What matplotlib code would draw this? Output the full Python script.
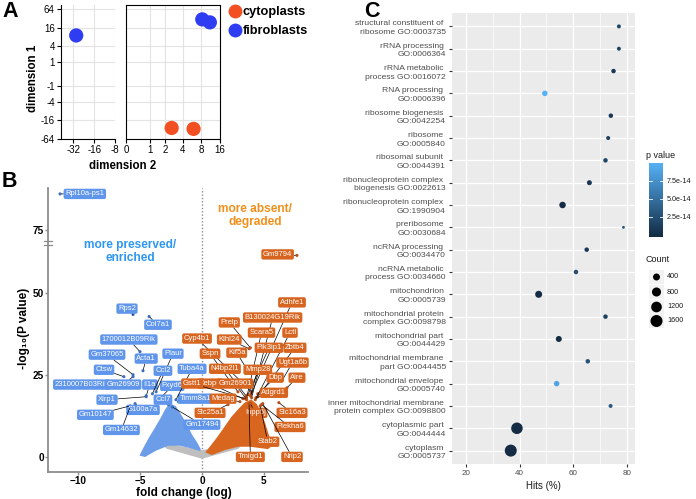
import numpy as np
import matplotlib
matplotlib.use('Agg')
import matplotlib.pyplot as plt
from matplotlib.colors import LinearSegmentedColormap, Normalize
from matplotlib.transforms import blended_transform_factory, offset_copy
from matplotlib.ticker import NullLocator
from matplotlib.patches import Rectangle

plt.rcParams['font.family'] = ['Liberation Sans', 'DejaVu Sans']

# ---------------- data: A (MDS) ----------------
cyto_x = [2.6, 6.0]
cyto_y = [-28, -30]
fibro_x = [-29, 8.3, 11]
fibro_y = [9, 30, 24]
mds_yticks = [64, 16, 4, 1, -1, -4, -16, -64]
mds_xticks_left = [-32, -16, -8]
mds_xticks_right = [0, 1, 2, 4, 8, 16]

# ---------------- data: B (volcano) ----------------
# envelopes of the dense point clouds (fold change, -log10 p)
grey_cloud_x = [-3.15, 0.0, 3.23, 2.9, 0.0, -2.82]
grey_cloud_y = [4.0, 1.8, 4.0, 2.7, -0.3, 2.7]
blue_cloud_x = [-4.92, -4.6, -4.19, -3.71, -3.23, -2.9, -2.58, -2.18, -1.77, -1.29, -0.89,
                -0.48, -0.16, -0.97, -1.77, -2.74, -3.79, -4.6]
blue_cloud_y = [0.6, 3.0, 5.8, 8.8, 11.9, 14.3, 15.9, 15.2, 12.8, 9.8, 6.7,
                4.3, 2.1, 3.0, 3.7, 3.7, 2.1, 0.3]
orange_cloud_x = [0.4, 0.8, 1.29, 1.85, 2.42, 2.98, 3.47, 3.95, 4.35, 4.68, 5.0,
                  5.3, 5.65, 5.3, 3.87, 2.9, 1.85, 0.8]
orange_cloud_y = [1.5, 3.4, 5.8, 8.8, 11.9, 14.3, 16.2, 17.1, 15.9, 13.4, 10.4,
                  6.7, 3.7, 2.7, 3.4, 3.4, 2.4, 0.9]

blue_genes = ['Il1a', 'Fxyd6', 'Timm8a1', 'S100a7a', 'Rpl10a-ps1', 'Rps2', 'Col7a1',
              '1700012B09Rik', 'Gm37065', 'Acta1', 'Plaur', 'Ctsw', 'Ccl2', 'Tuba4a',
              '2310007B03Rik', 'Gm26909', 'Xirp1', 'Ccl7', 'Gm10147', 'Gm14632', 'Gm17494']
blue_fc = [-4.5, -3.4, -1.9, -5.4, -11.45, -5.56, -4.27, -5.0, -5.56, -4.76,
           -3.7, -6.3, -4.0, -2.1, -7.26, -5.56, -4.5, -2.7, -5.8, -5.8, -2.4]
blue_lp = [18.6, 17.7, 16.8, 16.2, 86.0, 43.3, 42.7, 32.0, 25.0, 26.2,
           19.8, 24.4, 19.2, 17.4, 22.3, 24.4, 18.3, 15.9, 15.5, 15.2, 15.2]

up_genes = ['Cebpd', 'Inpp5j', 'Gm9794', 'Adhfe1', 'B130024G19Rik', 'Prelp', 'Scara5', 'Lctl',
            'Cyp4b1', 'Klhl24', 'Pik3ip1', 'Zbtb4', 'Sspn', 'Kif5a', 'Ugt1a6b', 'Mmp28',
            'N4bp2l1', 'Dbp', 'Aire', 'Gstt1', 'Gm26901', 'Adgrd1', 'Medag', 'Slc25a1',
            'Slc16a3', 'Plekha6', 'Stab2', 'Nrip2', 'Tmigd1']
up_fc = [3.3, 3.9, 7.66, 3.9, 4.0, 3.9, 3.6, 4.3, 4.0, 3.8, 3.7, 4.5, 2.9, 3.5, 6.5,
         3.95, 3.55, 4.5, 6.85, 3.5, 3.6, 4.35, 3.06, 2.1, 6.2, 4.8, 4.7, 4.9, 3.8]
up_lp = [17.7, 16.2, 61.3, 18.6, 18.0, 33.2, 18.0, 17.4, 19.8, 32.9, 18.9, 18.3, 19.8,
         27.4, 23.5, 19.2, 18.6, 19.2, 21.0, 17.7, 17.4, 18.0, 16.8, 15.9, 16.5, 15.9,
         15.5, 16.2, 16.2]

# label placement (layout, data coordinates)
blue_lab_pos = [(-4.2, 22), (-2.4, 21.6), (-0.56, 17.7), (-4.76, 14.3), (-9.45, 86),
                (-6.05, 45.1), (-3.55, 40.2), (-5.9, 35.7), (-7.66, 31.1), (-4.5, 29.9),
                (-2.34, 31.4), (-7.9, 26.5), (-3.15, 26.2), (-0.8, 26.8), (-9.7, 22),
                (-6.37, 22), (-7.66, 17.4), (-3.15, 17.4), (-8.6, 12.8), (-6.5, 8.2), (0, 9.8)]
up_lab_pos = [(0.65, 22.3), (4.3, 13.4), (6.1, 61.6), (7.26, 47), (5.7, 42.4), (2.2, 40.9),
              (4.8, 37.8), (7.1, 37.8), (-0.4, 36), (2.2, 35.7), (5.4, 33.2), (7.5, 33.2),
              (0.65, 31.4), (2.8, 31.7), (7.3, 28.7), (4.5, 26.5), (1.85, 26.8), (5.9, 24.1),
              (7.66, 24.1), (-0.8, 22.3), (2.66, 22.3), (5.8, 19.5), (1.7, 17.7), (0.65, 13.4),
              (7.26, 13.4), (7.1, 9.1), (5.3, 4.6), (7.26, 0), (3.9, 0)]

# ---------------- data: C (GO enrichment) ----------------
go_terms = ['structural constituent of \nribosome GO:0003735', 'rRNA processing \nGO:0006364',
            'rRNA metabolic \nprocess GO:0016072', 'RNA processing \nGO:0006396',
            'ribosome biogenesis \nGO:0042254', 'ribosome \nGO:0005840',
            'ribosomal subunit \nGO:0044391', 'ribonucleoprotein complex \nbiogenesis GO:0022613',
            'ribonucleoprotein complex \nGO:1990904', 'preribosome \nGO:0030684',
            'ncRNA processing \nGO:0034470', 'ncRNA metabolic \nprocess GO:0034660',
            'mitochondrion \nGO:0005739', 'mitochondrial protein \ncomplex GO:0098798',
            'mitochondrial part \nGO:0044429', 'mitochondrial membrane \npart GO:0044455',
            'mitochondrial envelope \nGO:0005740', 'inner mitochondrial membrane \nprotein complex GO:0098800',
            'cytoplasmic part \nGO:0044444', 'cytoplasm \nGO:0005737']
go_hits = [77, 77, 75, 49.4, 74, 73, 72, 66, 56, 78.7, 65, 61, 47.1, 72, 54.6, 65.4, 53.8, 73.9, 39, 36.7]
go_count = [64, 64, 100, 196, 100, 64, 100, 144, 324, 10, 100, 100, 400, 100, 256, 100, 196, 64, 1450, 1600]
go_p = [2e-14, 2e-14, 1e-14, 1e-13, 1e-14, 1.5e-14, 2e-14, 1e-14, 1e-20, 3e-14, 1e-14, 2.5e-14,
        1e-20, 1.5e-14, 1e-20, 3e-14, 9e-14, 3.5e-14, 1e-20, 1e-20]
count_breaks = [400, 800, 1200, 1600]
p_breaks = [2.5e-14, 5.0e-14, 7.5e-14]

# ---------------- figure ----------------
W, H = 696, 499
fig = plt.figure(figsize=(W / 100, H / 100), dpi=100)


def box(l, t, r, b):
    return [l / W, 1 - b / H, (r - l) / W, (b - t) / H]


def fpos(x, y):
    return x / W, 1 - y / H


# ---- panel A ----
red = '#F25022'
blue = '#2E3DF2'
axA1 = fig.add_axes(box(61, 5, 115, 139))
axA2 = fig.add_axes(box(126, 5, 220, 139))
for ax in (axA1, axA2):
    ax.set_xscale('asinh', linear_width=1.0)
    ax.set_yscale('asinh', linear_width=1.0)
    ax.set_ylim(-64, 88)
    ax.set_yticks(mds_yticks)
    ax.xaxis.set_minor_locator(NullLocator())
    ax.yaxis.set_minor_locator(NullLocator())
    ax.grid(True, color='#E3E3E3', lw=0.8)
    ax.set_axisbelow(True)
    ax.scatter(cyto_x, cyto_y, s=105, color=red, edgecolors='none', zorder=3)
    ax.scatter(fibro_x, fibro_y, s=105, color=blue, edgecolors='none', zorder=3)
    ax.tick_params(labelsize=7, length=3, width=0.8, pad=1.5)
axA1.set_xlim(-48, -8)
axA2.set_xlim(0, 16)
axA1.set_xticks(mds_xticks_left)
axA1.set_xticklabels([str(v) for v in mds_xticks_left])
axA1.set_yticklabels([str(v) for v in mds_yticks])
axA2.set_xticks(mds_xticks_right)
axA2.set_xticklabels([str(v) for v in mds_xticks_right])
axA2.tick_params(axis='y', length=0, labelleft=False)
axA1.spines['top'].set_visible(False)
axA1.spines['right'].set_visible(False)
fig.text(*fpos(33, 78), 'dimension 1', rotation=90, ha='center', va='center',
         fontsize=8.3, fontweight='bold')
fig.text(*fpos(123, 166), 'dimension 2', ha='center', va='center', fontsize=8.3, fontweight='bold')
hA = [plt.Line2D([], [], ls='', marker='o', ms=9, color=red),
      plt.Line2D([], [], ls='', marker='o', ms=9, color=blue)]
fig.legend(hA, ['cytoplasts', 'fibroblasts'], loc='upper left', bbox_to_anchor=fpos(222, 1),
           frameon=False, prop={'size': 9.2, 'weight': 'bold'}, handletextpad=0.0,
           labelspacing=0.55, handlelength=1.2, borderaxespad=0)

# ---- panel B ----
vblue = '#6C9DE9'
vblue_lab = '#5F95EA'
vorange = '#D9661F'
vorange_lab = '#D8651F'
vgrey = '#BEBEBE'


def fwd(y):
    y = np.asarray(y, float)
    return np.where(y < 65, y, np.where(y > 71, y - 6, 65.0))


def inv(t):
    t = np.asarray(t, float)
    return np.where(t < 65, t, t + 6)


axB = fig.add_axes(box(48, 188, 308, 472))
axB.set_yscale('function', functions=(fwd, inv))
axB.set_xlim(-12.42, 8.55)
axB.set_ylim(-4.6, 87.8)
axB.fill(grey_cloud_x, grey_cloud_y, color=vgrey, lw=1.2, zorder=1)
axB.fill(blue_cloud_x, blue_cloud_y, color=vblue, lw=1.5, zorder=2)
axB.fill(orange_cloud_x, orange_cloud_y, color=vorange, lw=1.5, zorder=2)
axB.scatter(blue_fc, blue_lp, s=5, color='#3E6FBF', zorder=3, edgecolors='none')
axB.scatter(up_fc, up_lp, s=5, color='#B9501A', zorder=3, edgecolors='none')
axB.axvline(0, ls=(0, (1, 1.4)), color='#8C8C8C', lw=1.0, zorder=0)


def label_genes(ax, names, fc, lp, pos, fc_col):
    for name, x, y, (lx, ly) in zip(names, fc, lp, pos):
        ax.annotate(name, xy=(x, y), xytext=(lx, ly), color='white', fontsize=5.5,
                    ha='center', va='center', zorder=5,
                    bbox=dict(boxstyle='round,pad=0.22,rounding_size=0.25', fc=fc_col, ec='none'),
                    arrowprops=dict(arrowstyle='-', color='black', lw=0.5,
                                    shrinkA=0, shrinkB=1))


label_genes(axB, blue_genes, blue_fc, blue_lp, blue_lab_pos, vblue_lab)
label_genes(axB, up_genes, up_fc, up_lp, up_lab_pos, vorange_lab)

axB.text(-5.8, 62.5, 'more preserved/\nenriched', color='#2E97F2', fontsize=8.6,
         fontweight='bold', ha='center', va='center', linespacing=1.15)
axB.text(4.3, 79.5, 'more absent/\ndegraded', color='#F2901C', fontsize=8.6,
         fontweight='bold', ha='center', va='center', linespacing=1.15)

axB.set_xticks([-10, -5, 0, 5])
axB.set_yticks([0, 25, 50, 75])
axB.tick_params(labelsize=7.2, length=2, width=1, color='#8C8C8C', pad=1)
for lab in axB.get_xticklabels() + axB.get_yticklabels():
    lab.set_fontweight('bold')
for s in ('top', 'right'):
    axB.spines[s].set_visible(False)
for s in ('left', 'bottom'):
    axB.spines[s].set_color('#8C8C8C')
    axB.spines[s].set_linewidth(1.3)
tr = blended_transform_factory(axB.transAxes, axB.transData)
for dy in (-1.8, 1.8):
    axB.plot([-0.014, 0.014], [65, 65], color='#8C8C8C', lw=0.9, clip_on=False,
             transform=offset_copy(tr, fig=fig, y=dy, units='dots'), zorder=6)
fig.text(*fpos(24, 328), '-log\u2081\u2080(P value)', rotation=90, ha='center', va='center',
         fontsize=8.5, fontweight='bold')
fig.text(*fpos(184, 493), 'fold change (log)', ha='center', va='center',
         fontsize=8.5, fontweight='bold')

# ---- panel C ----
pcmap = LinearSegmentedColormap.from_list('ggblue', ['#132B43', '#56B1F7'])
pnorm = Normalize(0, 1.0e-13)


def dot_size(c):
    d_px = 2 + 0.25 * np.sqrt(np.asarray(c, float))
    return (d_px * 0.72) ** 2


axC = fig.add_axes(box(452, 13, 635, 464))
axC.set_facecolor('#EBEBEB')
ypos = np.arange(len(go_terms))
axC.scatter(go_hits, ypos, s=dot_size(go_count), c=go_p, cmap=pcmap, norm=pnorm,
            edgecolors='none', zorder=3)
axC.set_xlim(14.8, 83)
axC.set_ylim(len(go_terms) - 0.4, -0.6)
axC.set_xticks([20, 40, 60, 80])
axC.set_xticks([30, 50, 70], minor=True)
axC.set_yticks(ypos)
axC.set_yticklabels(go_terms, fontsize=6.1, color='#4D4D4D', linespacing=1.3)
axC.tick_params(axis='x', labelsize=5.8, labelcolor='#4D4D4D', length=2.5, color='#333333', pad=2)
axC.tick_params(axis='y', length=2.5, color='#333333', pad=2)
axC.tick_params(which='minor', length=0)
axC.grid(True, which='major', color='white', lw=0.9)
axC.grid(True, which='minor', axis='x', color='white', lw=0.45)
axC.set_axisbelow(True)
for s in axC.spines.values():
    s.set_visible(False)
axC.set_xlabel('Hits (%)', fontsize=7, color='#1A1A1A', labelpad=3)

# p value colourbar
fig.text(*fpos(646, 155), 'p value', fontsize=6.5, va='center', ha='left', color='#1A1A1A')
cax = fig.add_axes(box(649, 163, 663, 237))
cax.imshow(np.linspace(0, 1, 256)[:, None], aspect='auto', cmap=pcmap, origin='lower',
           extent=[0, 1, -0.28e-14, 1.0e-13])
cax.set_xlim(0, 1)
cax.set_ylim(-0.28e-14, 1.0e-13)
for v in p_breaks:
    cax.plot([0, 0.2], [v, v], color='white', lw=0.6)
    cax.plot([0.8, 1], [v, v], color='white', lw=0.6)
cax.set_xticks([])
cax.yaxis.tick_right()
cax.set_yticks(p_breaks)
cax.set_yticklabels(['%.1e' % v for v in p_breaks])
cax.tick_params(axis='y', length=0, labelsize=5.2, labelcolor='#1A1A1A', pad=3)
for s in cax.spines.values():
    s.set_visible(False)

# Count legend
fig.text(*fpos(646, 260), 'Count', fontsize=6.5, va='center', ha='left', color='#1A1A1A')
key_y = [277, 292, 307, 321]
for c, yk in zip(count_breaks, key_y):
    x0, y0 = fpos(649, yk + 7.2)
    fig.add_artist(Rectangle((x0, y0), 15 / W, 14.4 / H, transform=fig.transFigure,
                             fc='#F2F2F2', ec='none'))
    fig.text(*fpos(667, yk), str(c), fontsize=5.2, va='center', ha='left', color='#1A1A1A')
lx, ly = zip(*[fpos(656.5, yk) for yk in key_y])
legax = fig.add_axes([0, 0, 1, 1], zorder=5)
legax.set_axis_off()
legax.set_xlim(0, 1)
legax.set_ylim(0, 1)
legax.scatter(lx, ly, s=dot_size(count_breaks), color='black', edgecolors='none')

# panel letters
for letter, (px, py) in zip('ABC', [(2, 1), (2, 171), (364, 1)]):
    fig.text(*fpos(px, py), letter, fontsize=15.5, fontweight='bold', ha='left', va='top')

fig.savefig('out.png', dpi=100)
